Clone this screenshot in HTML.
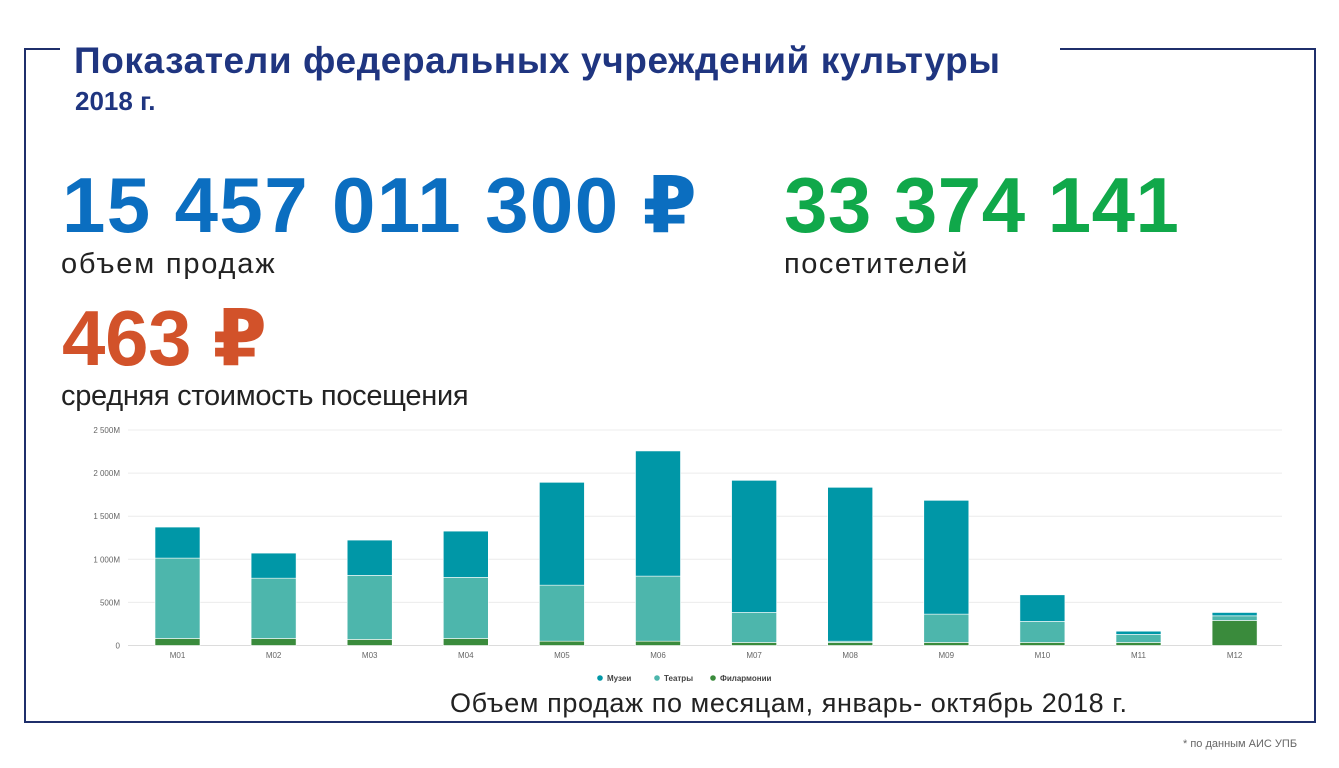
<!DOCTYPE html>
<html><head><meta charset="utf-8">
<style>
body{margin:0;width:1339px;height:768px;background:#fff;position:relative;overflow:hidden;font-family:"Liberation Sans","DejaVu Sans",sans-serif}
.abs{position:absolute;white-space:nowrap}
.line{position:absolute;background:#1f2f6b}
.big{font-size:78px;font-weight:bold;letter-spacing:1.4px}
</style></head><body>
<div class="line" style="left:24px;top:48px;width:36px;height:2px"></div>
<div class="line" style="left:1060px;top:48px;width:256px;height:2px"></div>
<div class="line" style="left:24px;top:48px;width:2px;height:675px"></div>
<div class="line" style="left:1314px;top:48px;width:2px;height:675px"></div>
<div class="line" style="left:24px;top:721px;width:1292px;height:2px"></div>

<div class="abs" style="left:74px;top:40px;font-size:37px;font-weight:bold;color:#1f3580;letter-spacing:0.6px">Показатели федеральных учреждений культуры</div>
<div class="abs" style="left:75px;top:86px;font-size:26px;font-weight:bold;color:#1f3580">2018 г.</div>

<div class="abs big" style="left:62px;top:160px;color:#0b6ec0">15 457 011 300 ₽</div>
<div class="abs" style="left:61px;top:248px;font-size:29px;color:#222;letter-spacing:1.8px">объем продаж</div>
<div class="abs big" style="left:784px;top:160px;color:#10a84a;letter-spacing:0.5px">33 374 141</div>
<div class="abs" style="left:784px;top:248px;font-size:29px;color:#222;letter-spacing:1.5px">посетителей</div>
<div class="abs big" style="left:62px;top:293px;color:#d2522a;letter-spacing:-0.3px">463 ₽</div>
<div class="abs" style="left:61px;top:380px;font-size:29px;color:#222;letter-spacing:-0.3px">средняя стоимость посещения</div>

<svg id="chart" width="1339" height="768" style="position:absolute;left:0;top:0"></svg>

<div class="abs" style="left:450px;top:688px;font-size:27px;color:#222;letter-spacing:0.6px">Объем продаж по месяцам, январь- октябрь 2018 г.</div>
<div class="abs" style="left:1183px;top:738px;font-size:11px;color:#666">* по данным АИС УПБ</div>

<script>
const months=["M01","M02","M03","M04","M05","M06","M07","M08","M09","M10","M11","M12"];
const philharmonics=[81,81,70,81,50,50,35,35,35,35,35,290];
const theatres=[933,700,743,709,650,755,348,15,329,244,93,54];
const museums=[360,291,410,537,1193,1452,1533,1785,1320,309,38,39];
const yTicks=[0,500,1000,1500,2000,2500];
const yTickLabels=["0","500M","1 000M","1 500M","2 000M","2 500M"];
const legendLabels=["Музеи","Театры","Филармонии"];

const NS="http://www.w3.org/2000/svg";
const svg=document.getElementById("chart");
const y0=645.5,pxPer=215.5/2500;
const y=v=>y0-v*pxPer;
const x=i=>177.5+i*96.1;
const bw=45;
function mk(t,a){const e=document.createElementNS(NS,t);for(const k in a)e.setAttribute(k,a[k]);svg.appendChild(e);return e;}
yTicks.forEach((t,i)=>{
  const g=mk("line",{x1:128,x2:1282,y1:y(t),y2:y(t),stroke:i==0?"#dcdcdc":"#ececec","stroke-width":1});
  
  
  const l=mk("text",{x:120,y:y(t)+3,"text-anchor":"end","font-size":8,fill:"#666"});
  l.textContent=yTickLabels[i];
  
  
});
const colors=["#3a8b3c","#4db6ac","#0097a7"];
months.forEach((m,i)=>{
  let base=0;
  [philharmonics[i],theatres[i],museums[i]].forEach((v,s)=>{
    const r=mk("rect",{x:x(i)-bw/2,y:y(base+v),width:bw,height:Math.max(0,y(base)-y(base+v)),fill:colors[s],stroke:"#fff","stroke-width":0.6});
    
    
    base+=v;
  });
  const t=mk("text",{x:x(i),y:658,"text-anchor":"middle","font-size":8,fill:"#666"});
  t.textContent=m;
  
  
});
const legX=[600,657,713],legC=["#0097a7","#4db6ac","#3a8b3c"];
legendLabels.forEach((l,i)=>{
  const c=mk("circle",{cx:legX[i],cy:678,r:2.8,fill:legC[i]});
  
  
  const t=mk("text",{x:legX[i]+7,y:681,"font-size":8,"font-weight":"bold",fill:"#444"});
  t.textContent=l;
  
  
});
</script>
</body></html>
